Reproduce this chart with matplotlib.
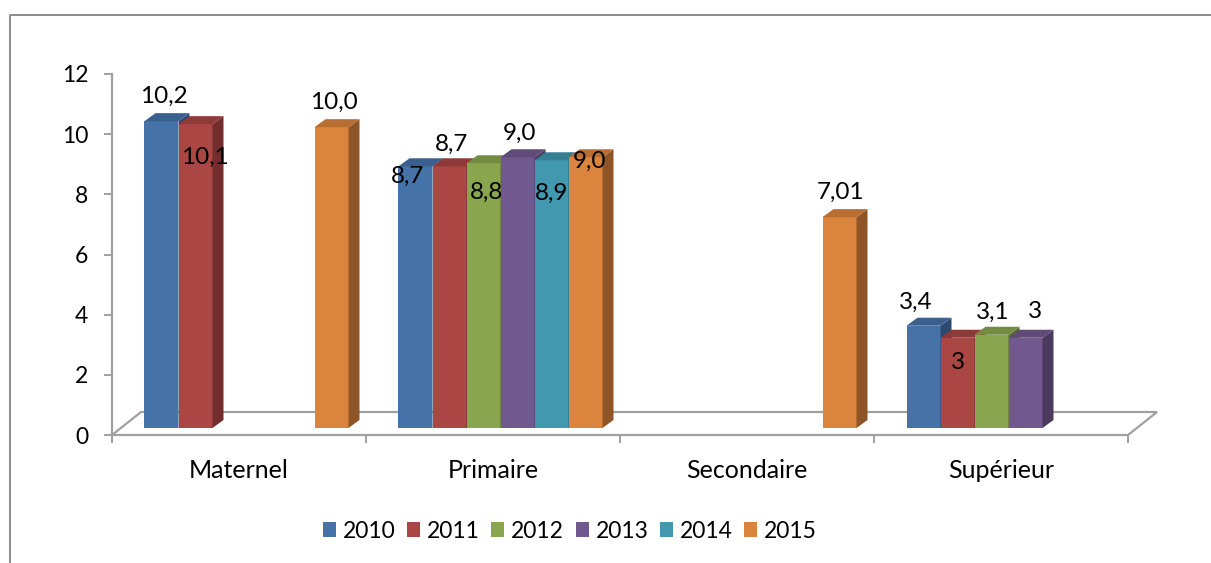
import matplotlib
matplotlib.use("Agg")
import matplotlib.pyplot as plt
from matplotlib.patches import Polygon, Rectangle
from matplotlib.lines import Line2D
from matplotlib.transforms import ScaledTranslation
import numpy as np

plt.rcParams['font.family'] = ['Lato', 'DejaVu Sans']

# ---------------- data ----------------
categories = ['Maternel', 'Primaire', 'Secondaire', 'Supérieur']
years = ['2010', '2011', '2012', '2013', '2014', '2015']
v2010 = [10.2, 8.7, None, 3.4]
v2011 = [10.1, 8.7, None, 3.0]
v2012 = [None, 8.8, None, 3.1]
v2013 = [None, 9.0, None, 3.0]
v2014 = [None, 8.9, None, None]
v2015 = [10.0, 9.0, 7.01, None]
lab2010 = ['10,2', '8,7', None, '3,4']
lab2011 = ['10,1', '8,7', None, '3']
lab2012 = [None, '8,8', None, '3,1']
lab2013 = [None, '9,0', None, '3']
lab2014 = [None, '8,9', None, None]
lab2015 = ['10,0', '9,0', '7,01', None]
yticks = [0, 2, 4, 6, 8, 10, 12]

series = [v2010, v2011, v2012, v2013, v2014, v2015]
labels = [lab2010, lab2011, lab2012, lab2013, lab2014, lab2015]

# ---------------- style ----------------
front = ['#4572A7', '#AA4643', '#89A54E', '#71588F', '#4198AF', '#DB843D']
side = ['#2C4A70', '#722D2C', '#5A6D33', '#4A3A5E', '#2A6373', '#8F5527']
top = ['#3A6090', '#8E3A38', '#748C42', '#5F4A78', '#367F92', '#B86E33']
# label offsets in pixels (dx right, dy down) relative to bar top centre
loff = {
    (0, 0): (10, -32), (0, 1): (17, 26), (0, 5): (10, -32),
    (1, 0): (0, 3), (1, 1): (10, -29), (1, 2): (11, 22), (1, 3): (9, -31),
    (1, 4): (8, 26), (1, 5): (11, -3),
    (2, 5): (9, -32),
    (3, 0): (0, -30), (3, 1): (8, 18), (3, 2): (9, -29), (3, 3): (17, -33),
}
grey = '#A0A0A0'
FS_TICK = 16.5
FS_CAT = 18
FS_LAB = 17.5
FS_LEG = 16.5

W, H = 1211, 563
fig = plt.figure(figsize=(W / 100, H / 100), dpi=100)
x_left, x_right, y_zero, y_top = 112, 1128, 435, 74
ax = fig.add_axes([x_left / W, 1 - y_zero / H, (x_right - x_left) / W, (y_zero - y_top) / H])
ax.set_xlim(0, 4)
ax.set_ylim(0, 12)
ax.patch.set_visible(False)

px_x = (x_right - x_left) / 4.0
px_y = (y_zero - y_top) / 12.0
bw = 34 / px_x            # bar width in data units
ddx = 11 / px_x           # depth of bar (x)
ddy = 8 / px_y            # depth of bar (y)
shift = ax.transData + ScaledTranslation(7.5 / 100, 7 / 100, fig.dpi_scale_trans)

# floor
fdx = 29 / px_x
fdy = 23 / px_y
floor = Polygon([(0, 0), (4, 0), (4 + fdx, fdy), (0 + fdx, fdy)], closed=True,
                facecolor='none', edgecolor=grey, lw=1.6, clip_on=False, zorder=1)
ax.add_patch(floor)

for c in range(len(categories)):
    for i, vals in enumerate(series):
        v = vals[c]
        if v is None:
            continue
        x0 = c + 0.5 + (i - 3) * bw
        ax.add_patch(Rectangle((x0, 0), bw, v, facecolor=front[i], edgecolor='none',
                               transform=shift, clip_on=False, zorder=3))
        ax.add_patch(Polygon([(x0 + bw, 0), (x0 + bw + ddx, ddy), (x0 + bw + ddx, v + ddy), (x0 + bw, v)],
                             closed=True, facecolor=side[i], edgecolor='none',
                             transform=shift, clip_on=False, zorder=3))
        ax.add_patch(Polygon([(x0, v), (x0 + bw, v), (x0 + bw + ddx, v + ddy), (x0 + ddx, v + ddy)],
                             closed=True, facecolor=top[i], edgecolor='none',
                             transform=shift, clip_on=False, zorder=3))

for c in range(len(categories)):
    for i, vals in enumerate(series):
        v = vals[c]
        if v is None:
            continue
        xc = c + 0.5 + (i - 2.5) * bw
        dx, dy = loff[(c, i)]
        ax.annotate(labels[i][c], xy=(xc, v), xytext=(dx, -dy), textcoords='offset pixels',
                    ha='center', va='center', fontsize=FS_LAB, color='black', zorder=5,
                    annotation_clip=False)

# axes styling
for s in ['top', 'right']:
    ax.spines[s].set_visible(False)
ax.spines['left'].set_color(grey)
ax.spines['left'].set_linewidth(1.6)
ax.spines['bottom'].set_visible(False)
ax.set_yticks(yticks)
ax.set_yticklabels([str(t) for t in yticks], fontsize=FS_TICK)
ax.tick_params(axis='y', length=6, width=1.4, color=grey, pad=11)
ax.set_xticks([0, 1, 2, 3, 4])
ax.set_xticklabels([])
ax.tick_params(axis='x', which='major', length=6, width=1.4, color=grey)
ax.set_xticks([0.5, 1.5, 2.5, 3.5], minor=True)
ax.set_xticklabels(categories, minor=True, fontsize=FS_CAT)
ax.tick_params(axis='x', which='minor', length=0, pad=17)

# legend
handles = [Rectangle((0, 0), 1, 1, facecolor=front[i], edgecolor='none') for i in range(6)]
fig.legend(handles, years, loc='center', bbox_to_anchor=(570 / W, 1 - 531 / H), ncol=6,
           frameon=False, fontsize=FS_LEG, handlelength=0.57, handleheight=0.6,
           handletextpad=0.3, columnspacing=0.5, borderaxespad=0)

# outer chart border
fig.add_artist(Line2D([10 / W, 10 / W, 1.0], [0.0, 1 - 15 / H, 1 - 15 / H],
                      transform=fig.transFigure, color='#8C8C8C', lw=1.4))

fig.savefig('out.png', dpi=100)
